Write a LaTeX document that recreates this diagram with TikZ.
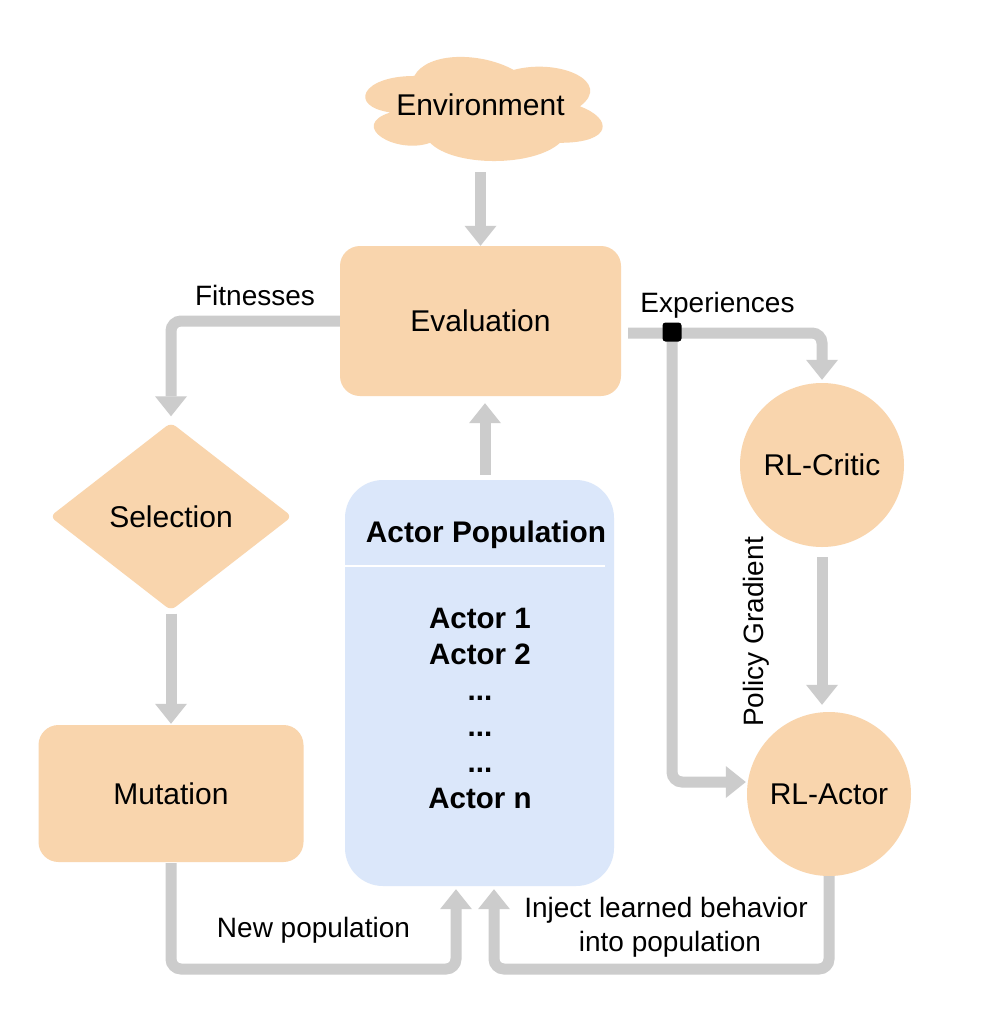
\documentclass[tikz,border=0pt]{standalone}
\usepackage{fontspec}
\setmainfont{Liberation Sans}
\usetikzlibrary{arrows.meta,shapes.geometric,calc}
\definecolor{peach}{HTML}{F9D5AD}
\definecolor{popblue}{HTML}{DBE7FA}
\definecolor{flowgray}{HTML}{CCCCCC}
\tikzset{
  flow/.style={draw=flowgray, line width=11pt, rounded corners=10pt,
    -{Triangle[width=32pt,length=20pt,line width=0pt]}},
  procbox/.style={fill=peach, draw=none, rounded corners=20pt, inner sep=0pt},
  bigtext/.style={font=\fontsize{30pt}{36pt}\selectfont},
  lbl/.style={font=\fontsize{28pt}{34pt}\selectfont, anchor=base, inner sep=0pt},
  itemtext/.style={font=\bfseries\fontsize{29.5pt}{36pt}\selectfont, anchor=base, inner sep=0pt},
  junction/.style={fill=black, rounded corners=3pt, minimum size=19pt, inner sep=0pt},
}
\begin{document}
\begin{tikzpicture}[x=1pt,y=-1pt]
\fill[white] (0,0) rectangle (998,1026);
\useasboundingbox (0,0) rectangle (998,1026);

% cloud
\begin{scope}[shift={(348,45.6)},x=265pt,y=-121.5pt]
\fill[peach] (0.25,0.25) .. controls (0.05,0.25) and (0,0.5) .. (0.16,0.55)
  .. controls (0,0.66) and (0.18,0.9) .. (0.31,0.8)
  .. controls (0.4,1) and (0.7,1) .. (0.8,0.8)
  .. controls (1,0.8) and (1,0.6) .. (0.875,0.5)
  .. controls (1,0.3) and (0.8,0.1) .. (0.625,0.2)
  .. controls (0.5,0.05) and (0.3,0.05) .. (0.25,0.25) -- cycle;
\end{scope}
\node[bigtext, minimum width=237pt, minimum height=112pt, inner sep=0pt] (env) at (480.5,105) {Environment};

\node[procbox, bigtext, minimum width=281pt, minimum height=150pt] (eval) at (480.5,321) {Evaluation};
\node[diamond, fill=peach, rounded corners=6pt, minimum width=242pt, minimum height=188pt, aspect=1.29, inner sep=0pt, bigtext] (sel) at (171,516.5) {Selection};
\node[procbox, bigtext, minimum width=265pt, minimum height=137pt] (mut) at (171,793.5) {Mutation};

\node[fill=popblue, rounded corners=38pt, minimum width=269pt, minimum height=406pt, inner sep=0pt] (pop) at (479.5,683) {};
\draw[white, line width=1.5pt] (pop.west |- 0,566) -- (605,566);
\node[font=\bfseries\fontsize{29.8pt}{34pt}\selectfont, anchor=base, inner sep=0pt] (pophead) at (486,542) {Actor Population};
\node[itemtext] (act1) at (480,628) {Actor 1};
\node[itemtext] (act2) at (480,664) {Actor 2};
\node[itemtext] (act3) at (480,700) {...};
\node[itemtext] (act4) at (480,736) {...};
\node[itemtext] (act5) at (480,772) {...};
\node[itemtext] (act6) at (480,808) {Actor n};

\node[circle, fill=peach, minimum size=164pt, inner sep=0pt, bigtext] (crit) at (822,465) {RL-Critic};
\node[circle, fill=peach, minimum size=164pt, inner sep=0pt, bigtext] (ract) at (829,794) {RL-Actor};

% connectors
\coordinate (botL) at (456,969);
\coordinate (botR) at (494,969);
\coordinate (jc) at (672,332);
\draw[flow, shorten <=11pt] (env.south) -- (eval.north);
\draw[flow, shorten >=6pt] (eval.west) -| (sel.north);
\draw[flow, shorten <=3pt, shorten >=1pt] (sel.south) -- (mut.north);
\draw[flow, shorten <=1pt, shorten >=3pt] (mut.south) |- (botL) -- (botL |- pop.south);
\draw[flow, shorten <=5pt, shorten >=7pt] ($(pop.north)+(5.5,0)$) -- ($(eval.south)+(4.5,0)$);
\draw[flow, shorten >=3pt] ($(eval.east)+(7,12)$) -| (crit.north);
\draw[flow, shorten >=1pt] (jc) |- ($(ract.west)+(0,-12)$);
\draw[flow, shorten <=10pt, shorten >=7pt] (crit.south) -- (crit.south |- ract.north);
\draw[flow, shorten >=3pt] (ract.south) |- (botR) -- (botR |- pop.south);
\node[junction] (junc) at (jc) {};

% labels
\node[lbl] (fit) at (255,305) {Fitnesses};
\node[lbl] (exp) at (717.5,312) {Experiences};
\node[lbl, rotate=90] (pg) at (763,632) {Policy Gradient};
\node[lbl] (newpop) at (313.5,937) {New population};
\node[lbl] (inj1) at (666,917) {Inject learned behavior};
\node[lbl] (inj2) at (670,951) {into population};
\end{tikzpicture}
\end{document}
